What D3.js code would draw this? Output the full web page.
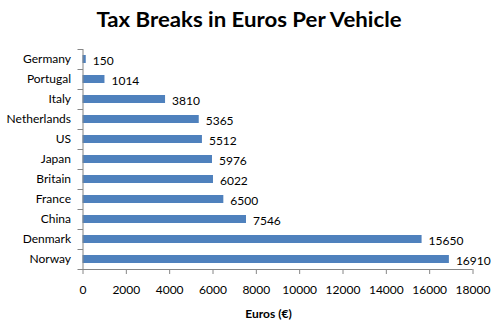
<!DOCTYPE html>
<html>
<head>
<meta charset="utf-8">
<script src="https://cdn.jsdelivr.net/npm/d3@7"></script>
<style>
  html, body { margin: 0; padding: 0; background: #fff; }
  svg { display: block; }
  text { font-family: Lato, "Open Sans", sans-serif; fill: #000; }
</style>
</head>
<body>
<svg id="chart" width="499" height="330"></svg>
<script>
const categories = ["Germany", "Portugal", "Italy", "Netherlands", "US", "Japan", "Britain", "France", "China", "Denmark", "Norway"];
const values = [150, 1014, 3810, 5365, 5512, 5976, 6022, 6500, 7546, 15650, 16910];
const xTicks = [0, 2000, 4000, 6000, 8000, 10000, 12000, 14000, 16000, 18000];
const titleText = "Tax Breaks in Euros Per Vehicle";
const xTitle = "Euros (€)";

const svg = d3.select("#chart");
const axisColor = "#868686";
const barColor = "#4F81BD";

const x = d3.scaleLinear().domain([0, 18000]).range([82.5, 472.5]);
const y = d3.scaleBand().domain(categories).range([49, 269]).paddingInner(0.6).paddingOuter(0.3);

// Title
svg.append("text")
  .attr("x", 249).attr("y", 27)
  .attr("text-anchor", "middle")
  .style("font-size", "21px").style("font-weight", "bold")
  .attr("textLength", 305).attr("lengthAdjust", "spacingAndGlyphs")
  .text(titleText);

// Bars
svg.append("g").selectAll("rect")
  .data(categories)
  .join("rect")
  .attr("x", x(0))
  .attr("y", (d) => y(d))
  .attr("width", (d, i) => x(values[i]) - x(0))
  .attr("height", y.bandwidth())
  .attr("fill", barColor);

// Value labels
svg.append("g").selectAll("text")
  .data(categories)
  .join("text")
  .attr("x", (d, i) => x(values[i]) + 7)
  .attr("y", (d) => y(d) + y.bandwidth() / 2 + 1.5)
  .attr("dy", "0.35em")
  .style("font-size", "12px")
  .text((d, i) => values[i]);

// X axis
const xAxis = svg.append("g")
  .attr("transform", `translate(0,${y.range()[1]})`)
  .call(d3.axisBottom(x).tickValues(xTicks).tickSize(5).tickPadding(11).tickFormat(d3.format("d")));
xAxis.select(".domain").attr("stroke", axisColor).attr("d", `M${x(0)},0.5H${x(18000)}`);
xAxis.selectAll(".tick line").attr("stroke", axisColor);
xAxis.selectAll(".tick text").style("font-size", "12px").style("font-family", "Lato, sans-serif").attr("fill", "#000");

// Y axis (labels)
const yAxis = svg.append("g")
  .attr("transform", `translate(${x(0)},0)`)
  .call(d3.axisLeft(y).tickSize(0).tickPadding(11.5));
yAxis.select(".domain").attr("stroke", axisColor).attr("d", `M0.5,${y.range()[0]}V${y.range()[1]}`);
yAxis.selectAll(".tick text").style("font-size", "12px").style("font-family", "Lato, sans-serif").attr("fill", "#000");

// Y axis boundary ticks
const bounds = d3.range(categories.length + 1).map((i) => y.range()[0] + i * y.step());
svg.append("g").selectAll("line")
  .data(bounds)
  .join("line")
  .attr("x1", x(0) - 5).attr("x2", x(0) + 0.5)
  .attr("y1", (d) => Math.round(d) + 0.5).attr("y2", (d) => Math.round(d) + 0.5)
  .attr("stroke", axisColor);

// X axis title
svg.append("text")
  .attr("x", 268.5).attr("y", 318)
  .attr("text-anchor", "middle")
  .style("font-size", "12px").style("font-weight", "bold")
  .text(xTitle);
</script>
</body>
</html>
